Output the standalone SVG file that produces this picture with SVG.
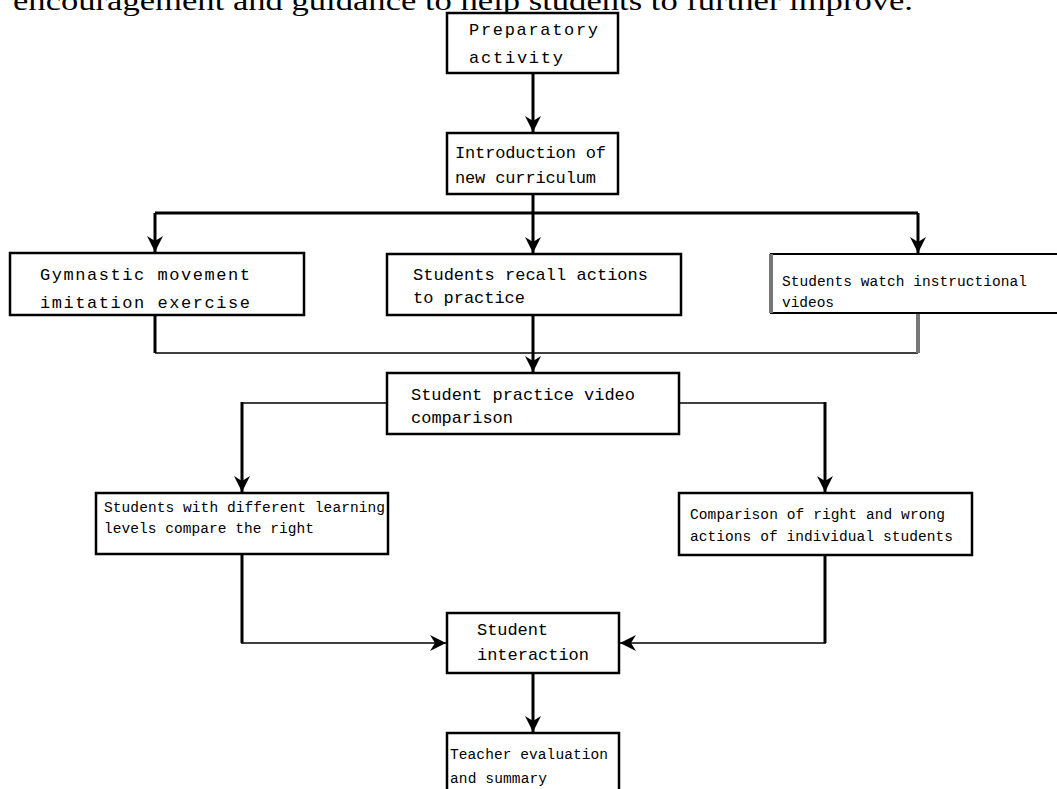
<svg xmlns="http://www.w3.org/2000/svg" width="1057" height="789" viewBox="0 0 1057 789">
<style>
.box{fill:#fff;stroke:#000;stroke-width:2.5}
.t{font-family:"Liberation Mono",monospace;font-size:17px;fill:#000}
.s{font-family:"Liberation Mono",monospace;font-size:14.5px;fill:#000}
.c{fill:none;stroke:#000;stroke-width:3}
.thin{fill:none;stroke:#000;stroke-width:1.6}
.ar{marker-end:url(#ah)}
</style>
<defs>
<marker id="ah" markerUnits="userSpaceOnUse" markerWidth="18" markerHeight="18" refX="16" refY="9" orient="auto">
<path d="M0,1 L16,9 L0,17 L5,9 z" fill="#000"/>
</marker>
</defs>
<rect width="1057" height="789" fill="#fff"/>
<text x="13" y="10" font-family="Liberation Serif,serif" font-size="28" textLength="900" lengthAdjust="spacingAndGlyphs">encouragement and guidance to help students to further improve.</text>
<g id="connectors">
<path class="c ar" d="M533,73 V132"/>
<path class="c" d="M533,194 V213 M155,213 H918"/>
<path class="c ar" d="M155,213 V252"/>
<path class="c ar" d="M533,213 V253"/>
<path class="c ar" d="M918,213 V253"/>
<path class="c" d="M155,315 V353"/>
<path class="thin" d="M155,353 H918"/>
<path d="M918,313 V353" stroke="#777" stroke-width="4"/>
<path class="c ar" d="M533,315 V372"/>
<path class="thin" d="M387,403 H242"/>
<path class="c ar" d="M242,402 V492"/>
<path class="thin" d="M679,403 H825"/>
<path class="c ar" d="M825,402 V492"/>
<path class="c" d="M242,554 V643"/>
<path class="thin ar" d="M241,643 H446"/>
<path class="c" d="M825,555 V643"/>
<path class="thin ar" d="M826,643 H620"/>
<path class="c ar" d="M533,673 V732"/>
</g>
<g id="n1"><rect class="box" x="447" y="13" width="171" height="60"/>
<text class="t" x="469" y="35" textLength="129">Preparatory</text><text class="t" x="469" y="63" textLength="94">activity</text></g>
<g id="n2"><rect class="box" x="447" y="133" width="171" height="61"/>
<text class="t" x="455" y="158" textLength="151">Introduction of</text><text class="t" x="455" y="183" textLength="141">new curriculum</text></g>
<g id="n3"><rect class="box" x="10" y="253" width="294" height="62"/>
<text class="t" x="40" y="280" textLength="210">Gymnastic movement</text><text class="t" x="40" y="308" textLength="210">imitation exercise</text></g>
<g id="n4"><rect class="box" x="387" y="254" width="294" height="61"/>
<text class="t" x="413" y="280" textLength="235">Students recall actions</text><text class="t" x="413" y="303" textLength="112">to practice</text></g>
<g id="n5"><path d="M1060,254 H771 V313 H1060" fill="#fff" stroke="#000" stroke-width="2"/>
<path d="M771,254 V313" stroke="#777" stroke-width="4"/>
<text class="s" x="782" y="286" textLength="245">Students watch instructional</text><text class="s" x="782" y="307" textLength="52">videos</text></g>
<g id="n6"><rect class="box" x="387" y="373" width="292" height="61"/>
<text class="t" x="411" y="400" textLength="224">Student practice video</text><text class="t" x="411" y="423" textLength="102">comparison</text></g>
<g id="n7"><rect class="box" x="96" y="493" width="292" height="61"/>
<text class="s" x="104" y="512" textLength="281">Students with different learning</text><text class="s" x="104" y="533" textLength="210">levels compare the right</text></g>
<g id="n8"><rect class="box" x="679" y="493" width="293" height="62"/>
<text class="s" x="690" y="519" textLength="255">Comparison of right and wrong</text><text class="s" x="690" y="541" textLength="263">actions of individual students</text></g>
<g id="n9"><rect class="box" x="447" y="613" width="172" height="60"/>
<text class="t" x="477" y="635" textLength="71">Student</text><text class="t" x="477" y="660" textLength="112">interaction</text></g>
<g id="n10"><path d="M447,795 V733 H619 V795" fill="#fff" stroke="#000" stroke-width="2.5"/>
<text class="s" x="450" y="759" textLength="158">Teacher evaluation</text><text class="s" x="450" y="783" textLength="97">and summary</text></g>
</svg>
